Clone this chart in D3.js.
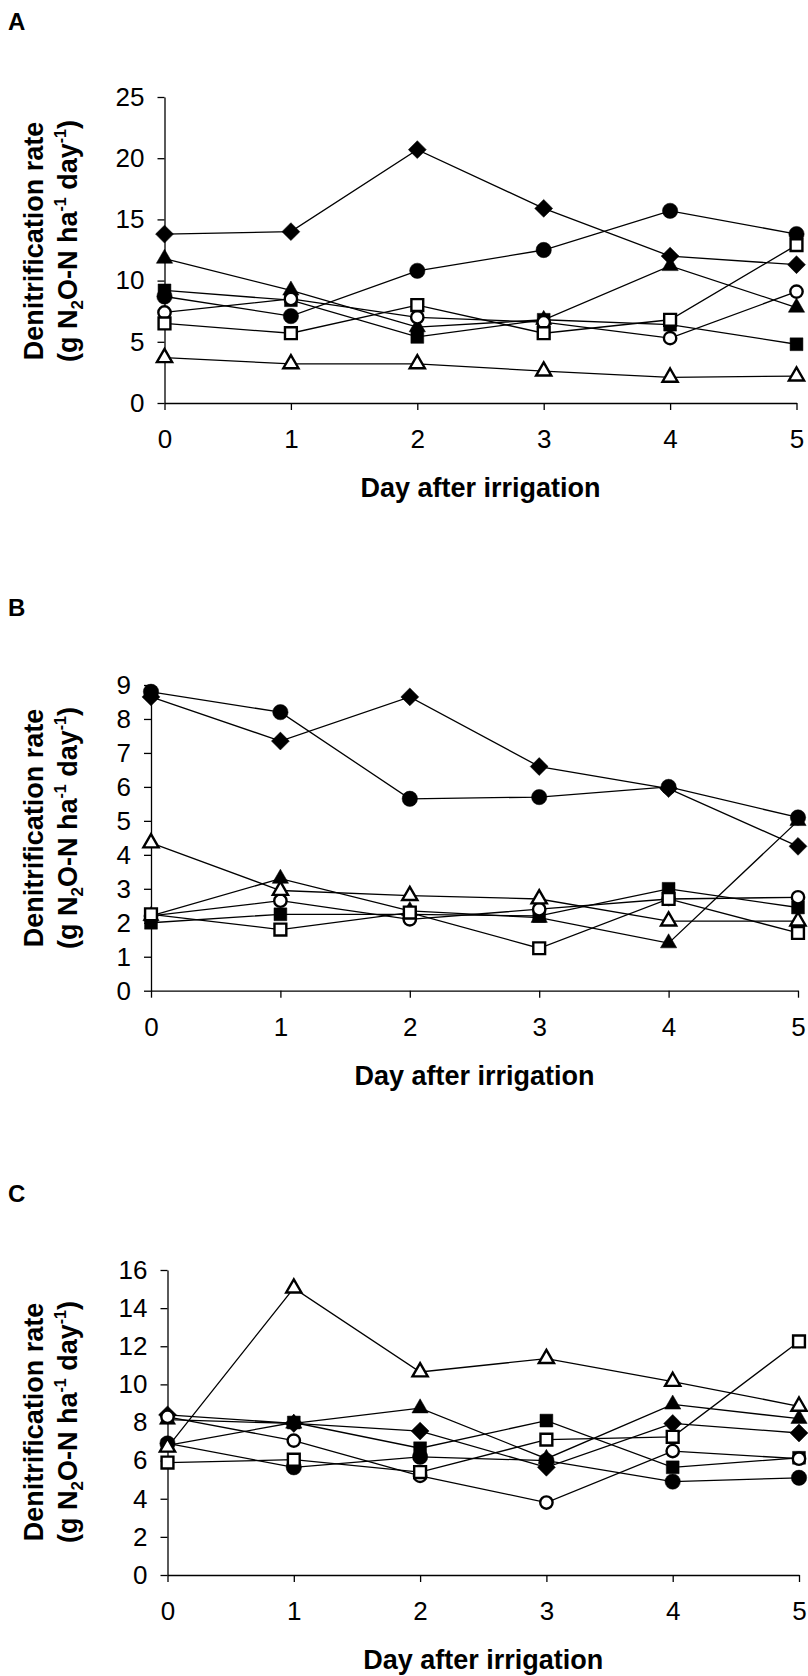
<!DOCTYPE html>
<html>
<head>
<meta charset="utf-8">
<script src="https://cdn.jsdelivr.net/npm/d3@7"></script>
<style>
  body { margin: 0; background: #fff; }
  svg { display: block; }
  text { font-family: "Liberation Sans", Arial, Helvetica, sans-serif; fill: #000; }
</style>
</head>
<body>
<svg id="chart" width="808" height="1676"></svg>
<script>
// Days after irrigation (x axis)
const days = [0, 1, 2, 3, 4, 5];

// Y tick values for each panel
const yTicksA = [0, 5, 10, 15, 20, 25];
const yTicksB = [0, 1, 2, 3, 4, 5, 6, 7, 8, 9];
const yTicksC = [0, 2, 4, 6, 8, 10, 12, 14, 16];

// Denitrification rates, g N2O-N ha-1 day-1.
// Series order in every panel: filled diamond, filled circle, filled triangle,
// filled square, open circle, open square, open triangle.
const panelA = [
  [13.8, 14.0, 20.7, 15.9, 12.0, 11.3],
  [8.7, 7.1, 10.8, 12.5, 15.7, 13.8],
  [11.8, 9.2, 6.2, 6.8, 11.2, 7.8],
  [9.2, 8.4, 5.4, 6.8, 6.4, 4.8],
  [7.4, 8.5, 7.0, 6.6, 5.3, 9.1],
  [6.5, 5.7, 8.0, 5.7, 6.8, 12.9],
  [3.7, 3.2, 3.2, 2.6, 2.1, 2.2]
];
const panelB = [
  [8.65, 7.35, 8.65, 6.6, 5.95, 4.25],
  [8.8, 8.2, 5.65, 5.7, 6.0, 5.1],
  [2.2, 3.3, 2.35, 2.15, 1.4, 5.0],
  [2.0, 2.25, 2.25, 2.2, 3.0, 2.45],
  [2.2, 2.65, 2.1, 2.4, 2.7, 2.75],
  [2.25, 1.8, 2.3, 1.25, 2.7, 1.7],
  [4.35, 2.95, 2.8, 2.7, 2.05, 2.05]
];
const panelC = [
  [8.4, 7.95, 7.55, 5.65, 7.95, 7.45],
  [6.9, 5.65, 6.2, 6.0, 4.9, 5.1],
  [8.15, 7.95, 8.75, 6.1, 8.95, 8.2],
  [6.8, 8.0, 6.65, 8.1, 5.65, 6.15],
  [8.3, 7.05, 5.2, 3.8, 6.5, 6.1],
  [5.9, 6.05, 5.4, 7.1, 7.25, 12.25],
  [6.7, 15.05, 10.65, 11.35, 10.15, 8.85]
];

// Marker for each series (same order as the value arrays)
const markers = [
  { type: d3.symbolSquare, size: 160, rotate: 45, open: false },
  { type: d3.symbolCircle, size: 185, open: false },
  { type: d3.symbolTriangle, size: 115, open: false },
  { type: d3.symbolSquare, size: 165, open: false },
  { type: d3.symbolCircle, size: 120, open: true },
  { type: d3.symbolSquare, size: 140, open: true },
  { type: d3.symbolTriangle, size: 100, open: true }
];

const panels = [
  { letter: "A", values: panelA, ticks: yTicksA, yMax: 25,
    left: 164.5, right: 796.5, top: 97, bottom: 403, letterY: 30, titleY: 241 },
  { letter: "B", values: panelB, ticks: yTicksB, yMax: 9,
    left: 151, right: 798, top: 685, bottom: 990.7, letterY: 616, titleY: 828 },
  { letter: "C", values: panelC, ticks: yTicksC, yMax: 16,
    left: 167.5, right: 799, top: 1270, bottom: 1575, letterY: 1202, titleY: 1422 }
];

const svg = d3.select("#chart");

panels.forEach(p => {
  const g = svg.append("g");
  const x = d3.scaleLinear().domain([0, 5]).range([p.left, p.right]);
  const y = d3.scaleLinear().domain([0, p.yMax]).range([p.bottom, p.top]);

  // Panel letter
  g.append("text")
    .attr("x", 8).attr("y", p.letterY)
    .attr("font-size", 24).attr("font-weight", "bold")
    .text(p.letter);

  // Axes
  const xAxis = g.append("g")
    .attr("transform", `translate(0,${p.bottom})`)
    .call(d3.axisBottom(x).tickValues(days).tickFormat(d3.format("d"))
      .tickSize(7).tickSizeOuter(0).tickPadding(20));
  const yAxis = g.append("g")
    .attr("transform", `translate(${p.left},0)`)
    .call(d3.axisLeft(y).tickValues(p.ticks).tickFormat(d3.format("d"))
      .tickSize(7).tickSizeOuter(0).tickPadding(13));
  [xAxis, yAxis].forEach(ax => {
    ax.attr("font-family", null).attr("font-size", null);
    ax.selectAll("path, line").attr("stroke", "#000").attr("stroke-width", 1.3);
    ax.selectAll("text").attr("font-size", 26);
  });

  // Axis titles
  g.append("text")
    .attr("x", (p.left + p.right) / 2).attr("y", p.bottom + 94)
    .attr("text-anchor", "middle").attr("font-size", 27).attr("font-weight", "bold")
    .text("Day after irrigation");

  g.append("text")
    .attr("transform", `translate(43,${p.titleY}) rotate(-90)`)
    .attr("text-anchor", "middle").attr("font-size", 27).attr("font-weight", "bold")
    .text("Denitrification rate");

  const t2 = g.append("text")
    .attr("transform", `translate(77,${p.titleY}) rotate(-90)`)
    .attr("text-anchor", "middle").attr("font-size", 27).attr("font-weight", "bold");
  t2.append("tspan").text("(g N");
  t2.append("tspan").attr("font-size", 17).attr("dy", 6).text("2");
  t2.append("tspan").attr("dy", -6).text("O-N ha");
  t2.append("tspan").attr("font-size", 16).attr("dy", -11).text("-1");
  t2.append("tspan").attr("dy", 11).text(" day");
  t2.append("tspan").attr("font-size", 16).attr("dy", -11).text("-1");
  t2.append("tspan").attr("dy", 11).text(")");

  // Series lines
  const line = d3.line().x((d, i) => x(days[i])).y(d => y(d));
  g.append("g").selectAll("path")
    .data(p.values)
    .join("path")
    .attr("d", line)
    .attr("fill", "none").attr("stroke", "#000").attr("stroke-width", 1.3);

  // Series markers
  p.values.forEach((vals, si) => {
    const m = markers[si];
    const sym = d3.symbol().type(m.type).size(m.size);
    g.append("g").selectAll("path")
      .data(vals)
      .join("path")
      .attr("d", sym)
      .attr("transform", (d, i) => `translate(${x(days[i])},${y(d)})` + (m.rotate ? ` rotate(${m.rotate})` : ""))
      .attr("fill", m.open ? "#fff" : "#000")
      .attr("stroke", "#000")
      .attr("stroke-width", m.open ? 2.4 : 0.5);
  });
});
</script>
</body>
</html>
